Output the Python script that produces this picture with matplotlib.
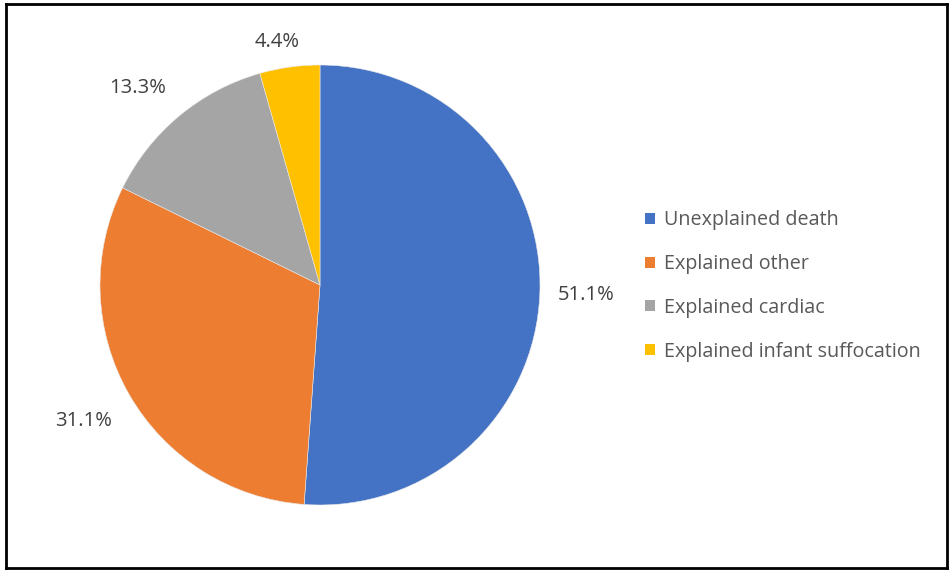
import numpy as np
import matplotlib.pyplot as plt
from matplotlib.patches import Patch

categories = ['Unexplained death', 'Explained other', 'Explained cardiac',
              'Explained infant suffocation']
shares = [51.1, 31.1, 13.3, 4.4]
colors = ['#4472C4', '#ED7D31', '#A5A5A5', '#FFC000']
label_dist = [1.21, 1.24, 1.22, 1.12]
# small angular nudges (degrees) for the outside labels
label_shift = [0, 0, 3, 2]

plt.rcParams['font.family'] = ['Open Sans', 'DejaVu Sans']

fig = plt.figure(figsize=(9.51, 5.71), dpi=100)

# outer frame
frame = fig.add_axes([5.5 / 951, 3.5 / 571, 941.5 / 951, 564 / 571])
frame.set_xticks([])
frame.set_yticks([])
for s in frame.spines.values():
    s.set_linewidth(2)
    s.set_color('black')
frame.patch.set_alpha(0)

ax = fig.add_axes([100 / 951, 66 / 571, 440 / 951, 440 / 571])
wedges, _ = ax.pie(shares, colors=colors, startangle=90, counterclock=False,
                   radius=1, wedgeprops=dict(linewidth=0.4, edgecolor='#e8e8e8'))
ax.set_xlim(-1, 1)
ax.set_ylim(-1, 1)
ax.set_aspect('equal')

for w, v, d, sh in zip(wedges, shares, label_dist, label_shift):
    ang = np.deg2rad((w.theta1 + w.theta2) / 2 + sh)
    ax.text(d * np.cos(ang), d * np.sin(ang), f'{v:.1f}%', ha='center', va='center',
            fontsize=14.5, color='#404040', clip_on=False)

handles = [Patch(facecolor=c, edgecolor='none') for c in colors]
fig.legend(handles, categories, loc='center left', bbox_to_anchor=(645 / 951, 1 - 286 / 571),
           frameon=False, fontsize=14.2, labelcolor='#595959', handlelength=0.5,
           handleheight=0.5, handletextpad=0.45, labelspacing=1.2, borderaxespad=0,
           borderpad=0)

fig.savefig('out.png', dpi=100)
